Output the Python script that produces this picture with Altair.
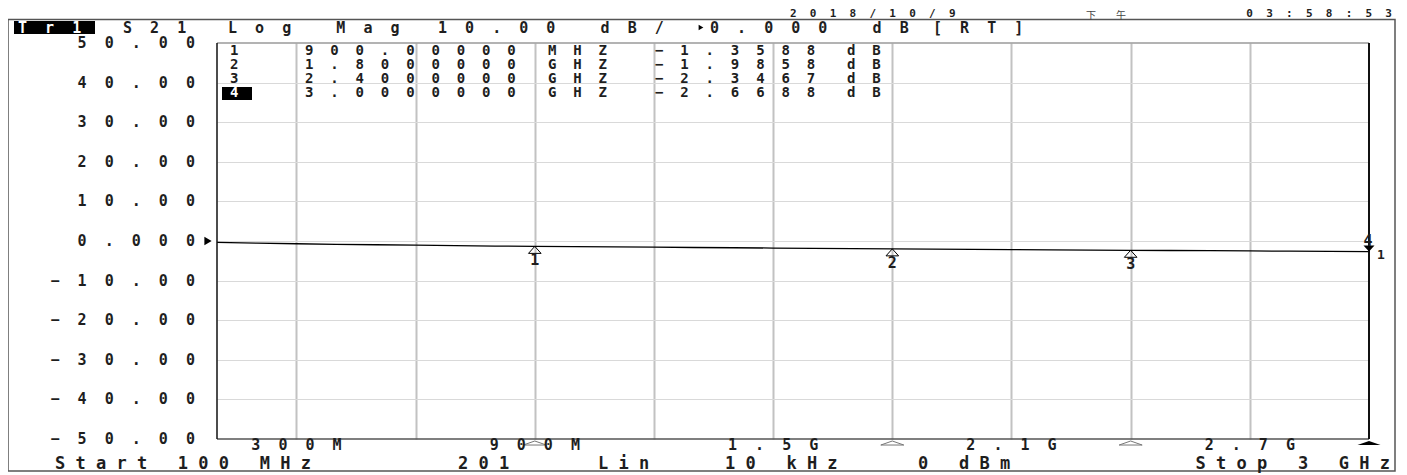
import altair as alt
import pandas as pd

# ---------------- data ----------------
freq_mhz = [100, 200, 300, 400, 500, 600, 700, 800, 900, 1000,
            1100, 1200, 1300, 1400, 1500, 1600, 1700, 1800, 1900, 2000,
            2100, 2200, 2300, 2400, 2500, 2600, 2700, 2800, 2900, 3000]
s21_db = [-0.35, -0.55, -0.70, -0.83, -0.95, -1.06, -1.17, -1.27, -1.36, -1.43,
          -1.50, -1.57, -1.64, -1.71, -1.78, -1.85, -1.92, -1.99, -2.05, -2.11,
          -2.17, -2.23, -2.29, -2.35, -2.40, -2.45, -2.51, -2.56, -2.61, -2.67]

mk_ids = [1, 2, 3, 4]
mk_freq = [900, 1800, 2400, 3000]
mk_freq_txt = ["900.00000", "1.8000000", "2.4000000", "3.0000000"]
mk_unit = ["MHZ", "GHZ", "GHZ", "GHZ"]
mk_db = [-1.3588, -1.9858, -2.3467, -2.6688]

x_grid = [300, 600, 900, 1200, 1500, 1800, 2100, 2400, 2700]
x_label_vals = [300, 900, 1500, 2100, 2700]
x_label_txt = ["300M", "900M", "1.5G", "2.1G", "2.7G"]
y_grid = [-40, -30, -20, -10, 0, 10, 20, 30, 40]
y_label_vals = [50, 40, 30, 20, 10, 0, -10, -20, -30, -40, -50]
y_label_txt = ["50.00", "40.00", "30.00", "20.00", "10.00", "0.000",
               "\u221210.00", "\u221220.00", "\u221230.00", "\u221240.00", "\u221250.00"]
ref_level = [0.0]

# ---------------- style ----------------
W, H = 1152, 396
MONO = "DejaVu Sans Mono"
INK = "#1e1e1e"
NB = "\u00a0"
BOLD = "bold"


def wide(s, n=2):
    return (NB * n).join(s.replace(" ", NB))


XS = alt.Scale(domain=[100, 3000], nice=False, zero=False)
YS = alt.Scale(domain=[-50, 50], nice=False, zero=False)
XAX = alt.Axis(values=x_grid, grid=True, labels=False, ticks=False, domain=False,
               title=None, gridColor="#c2c2c2", gridWidth=2)
YAX = alt.Axis(values=y_grid, grid=True, labels=False, ticks=False, domain=False,
               title=None, gridColor="#d9d9d9", gridWidth=1)


def txt(s, x, y, size=15, n=2, align="left", color=INK, font=MONO, baseline="middle", weight=BOLD):
    return alt.Chart(pd.DataFrame({"t": [wide(s, n)]})).mark_text(
        align=align, baseline=baseline, font=font, fontSize=size, color=color, fontWeight=weight
    ).encode(x=alt.value(x), y=alt.value(y), text="t:N")


def box(x1, x2, y1, y2, fill=None, stroke=None, sw=1):
    kw = dict(fill=fill if fill else "transparent")
    if stroke:
        kw.update(stroke=stroke, strokeWidth=sw)
    return alt.Chart(pd.DataFrame({"a": [0]})).mark_rect(**kw).encode(
        x=alt.value(x1), x2=alt.value(x2), y=alt.value(y1), y2=alt.value(y2))


def rule(x1, x2, y1, y2, color, sw):
    return alt.Chart(pd.DataFrame({"a": [0]})).mark_rule(color=color, strokeWidth=sw).encode(
        x=alt.value(x1), x2=alt.value(x2), y=alt.value(y1), y2=alt.value(y2))


trace_df = pd.DataFrame({"f": freq_mhz, "db": s21_db})
mk_df = pd.DataFrame({
    "row": mk_ids,
    "id": [str(i) for i in mk_ids],
    "f": mk_freq,
    "db": mk_db,
    "ftxt": [wide(s) for s in mk_freq_txt],
    "unit": [wide(s) for s in mk_unit],
    "vtxt": [wide("\u2212%.4f" % abs(v)) for v in mk_db],
    "dbtxt": [wide("dB")] * 4,
})
mk_df["idtxt"] = mk_df["id"]
xl_df = pd.DataFrame({"v": x_label_vals, "t": [wide(s) for s in x_label_txt]})
yl_df = pd.DataFrame({"v": y_label_vals, "t": [wide(s) for s in y_label_txt]})

layers = []

# outer frame
layers.append(box(-209, 1178, -23.5, 428, stroke="#555555", sw=1.5))

# trace (carries the grid)
trace = alt.Chart(trace_df).mark_line(color="black", strokeWidth=1.3).encode(
    x=alt.X("f:Q", scale=XS, axis=XAX),
    y=alt.Y("db:Q", scale=YS, axis=YAX),
)
layers.append(trace)

# plot borders
layers.append(rule(0, 1152, 0, 0, "#9a9a9a", 1.5))
layers.append(rule(0, 1152, 396, 396, "#555555", 1.5))
layers.append(rule(0, 0, 0, 396, "#111111", 1.5))
layers.append(rule(1152, 1152, 0, 396, "#111111", 2))

# markers on the trace (1-3 open triangles, numbers below)
TRI_UP = "M0,0L0.9,1L-0.9,1Z"
TRI_DN = "M0,0L0.9,-1L-0.9,-1Z"
FLAT_UP = "M0,0L1,0.35L-1,0.35Z"
mk_base = alt.Chart(mk_df)
layers.append(mk_base.transform_filter("datum.row < 4").mark_point(
    shape=TRI_UP, size=196, filled=False, color="black", strokeWidth=1, opacity=1
).encode(x=alt.X("f:Q", scale=XS, axis=XAX), y=alt.Y("db:Q", scale=YS, axis=None)))
layers.append(mk_base.transform_filter("datum.row < 4").mark_text(
    font=MONO, fontSize=15, fontWeight=BOLD, color=INK, dy=14, baseline="middle", align="center"
).encode(x=alt.X("f:Q", scale=XS, axis=XAX), y=alt.Y("db:Q", scale=YS, axis=None), text="idtxt:N"))
# active marker 4
layers.append(mk_base.transform_filter("datum.row == 4").mark_point(
    shape=TRI_DN, size=150, filled=True, color="black", opacity=1, dx=6
).encode(x=alt.X("f:Q", scale=XS, axis=XAX), y=alt.Y("db:Q", scale=YS, axis=None)))
layers.append(mk_base.transform_filter("datum.row == 4").mark_text(
    font=MONO, fontSize=15, fontWeight=BOLD, color=INK, dy=-11, dx=-1, baseline="middle", align="center"
).encode(x=alt.X("f:Q", scale=XS, axis=XAX), y=alt.Y("db:Q", scale=YS, axis=None), text="idtxt:N"))
layers.append(mk_base.transform_filter("datum.row == 4").mark_text(
    font=MONO, fontSize=13, fontWeight=BOLD, color=INK, dy=3, dx=12, baseline="middle", align="center"
).encode(x=alt.X("f:Q", scale=XS, axis=XAX), y=alt.Y("db:Q", scale=YS, axis=None), text=alt.value("1")))

# marker indicators below the plot
layers.append(mk_base.transform_filter("datum.row < 4").mark_point(
    shape=FLAT_UP, size=529, filled=True, fill="white", stroke="#777777", strokeWidth=1, opacity=1
).encode(x=alt.X("f:Q", scale=XS, axis=XAX), y=alt.value(398)))
layers.append(mk_base.transform_filter("datum.row == 4").mark_point(
    shape=FLAT_UP, size=529, filled=True, color="black", opacity=1
).encode(x=alt.X("f:Q", scale=XS, axis=XAX), y=alt.value(398)))

# reference level arrow
layers.append(alt.Chart(pd.DataFrame({"db": ref_level})).mark_point(
    shape="triangle-right", size=70, filled=True, color="black", opacity=1
).encode(x=alt.value(-9), y=alt.Y("db:Q", scale=YS, axis=None)))

# y labels
layers.append(alt.Chart(yl_df).mark_text(
    font=MONO, fontSize=15, fontWeight=BOLD, color=INK, align="right", baseline="middle"
).encode(x=alt.value(-22), y=alt.Y("v:Q", scale=YS, axis=None), text="t:N"))

# x labels
layers.append(alt.Chart(xl_df).mark_text(
    font=MONO, fontSize=15, fontWeight=BOLD, color=INK, align="center", baseline="middle"
).encode(x=alt.X("v:Q", scale=XS, axis=XAX), y=alt.value(402), text="t:N"))

# marker table
ROWS = alt.Y("row:Q", scale=alt.Scale(domain=[1, 4], range=[7.5, 50], nice=False, zero=False), axis=None)
layers.append(box(5, 35, 44, 57, fill="black"))
for col, xpos, color, flt in [("idtxt", 13, INK, "datum.row < 4"),
                              ("idtxt", 13, "white", "datum.row == 4"),
                              ("ftxt", 88, INK, "true"),
                              ("unit", 331, INK, "true"),
                              ("vtxt", 438, INK, "true"),
                              ("dbtxt", 630, INK, "true")]:
    layers.append(mk_base.transform_filter(flt).mark_text(
        font=MONO, fontSize=14, fontWeight=BOLD, color=color, align="left", baseline="middle"
    ).encode(x=alt.value(xpos), y=ROWS, text=f"{col}:N"))

# header line
layers.append(box(-203, -122, -22, -9, fill="black"))
layers.append(txt("Tr1", -199, -15.5, color="white"))
layers.append(txt("S21", -94, -15.5))
layers.append(txt("Log Mag", 11, -15.5))
layers.append(txt("10.00 dB/", 221, -15.5))
layers.append(alt.Chart(pd.DataFrame({"a": [0]})).mark_point(
    shape="triangle-right", size=30, filled=True, color="black", opacity=1
).encode(x=alt.value(484), y=alt.value(-15.5)))
layers.append(txt("0.000 dB", 493, -15.5))
layers.append(txt("[RT]", 716, -15.5))

# date / time
layers.append(txt("2018/10/9", 573, -35, size=11, baseline="top"))
layers.append(txt("\u4e0b\u3000\u3000\u5348", 889, -27.5, size=10, n=0, align="center",
                  font="Noto Sans CJK SC", baseline="middle", color="#444444", weight="normal"))
layers.append(txt("03:58:53", 1175, -35, size=11, align="right", baseline="top"))

# bottom status line
layers.append(txt("Start 100 MHz", -162, 421, size=17, n=1))
layers.append(txt("201", 241, 421, size=17, n=1))
layers.append(txt("Lin", 381, 421, size=17, n=1))
layers.append(txt("10 kHz", 508, 421, size=17, n=1))
layers.append(txt("0 dBm", 701, 421, size=17, n=1))
layers.append(txt("Stop 3 GHz", 1173, 421, size=17, n=1, align="right"))

chart = alt.layer(*layers).resolve_scale(y="independent").properties(
    width=W, height=H,
    autosize=alt.AutoSizeParams(type="none"),
    padding={"left": 209, "top": 35, "right": 30, "bottom": 34},
    background="white",
).configure_view(strokeWidth=0)

chart.save("out.html", embed_options={"renderer": "svg", "actions": False})
